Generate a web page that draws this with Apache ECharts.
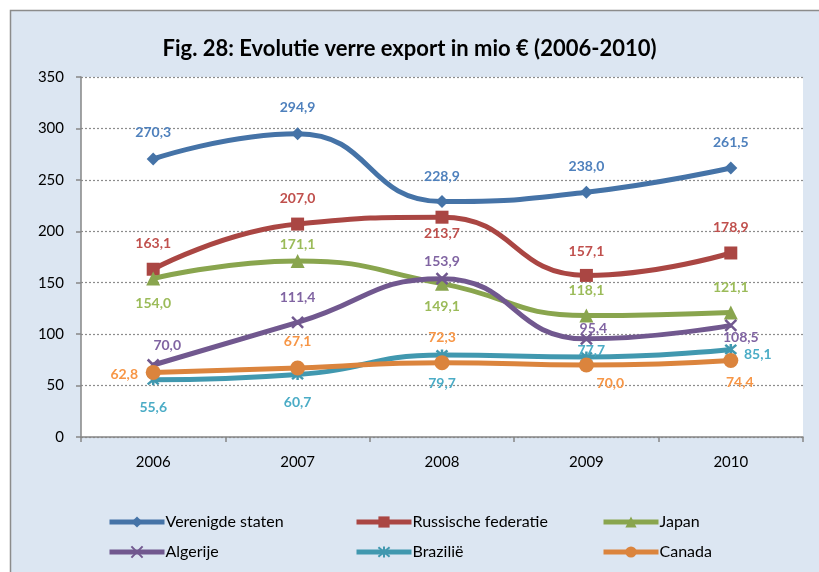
<!DOCTYPE html>
<html>
<head>
<meta charset="utf-8">
<title>Fig. 28</title>
<script src="https://cdn.jsdelivr.net/npm/echarts@6/dist/echarts.min.js"></script>
<style>
	html, body {
		margin: 0;
		padding: 0;
		background: #fff;
	}
	#chart {
		width: 819px;
		height: 572px;
	}
</style>
</head>
<body>
<div id="chart"></div>
<script>
// data
const years = ['2006', '2007', '2008', '2009', '2010'];
const seriesNames = ['Verenigde staten', 'Russische federatie', 'Japan', 'Algerije', 'Brazilië', 'Canada'];
const verenigdeStaten = [270.3, 294.9, 228.9, 238.0, 261.5];
const russischeFederatie = [163.1, 207.0, 213.7, 157.1, 178.9];
const japan = [154.0, 171.1, 149.1, 118.1, 121.1];
const algerije = [70.0, 111.4, 153.9, 95.4, 108.5];
const brazilie = [55.6, 60.7, 79.7, 77.7, 85.1];
const canada = [62.8, 67.1, 72.3, 70.0, 74.4];
const yTicks = [0, 50, 100, 150, 200, 250, 300, 350];

const values = [verenigdeStaten, russischeFederatie, japan, algerije, brazilie, canada];

// styles
const lineColors = ['#4573a7', '#aa4643', '#89a54e', '#71588f', '#4198af', '#db843d'];
const labelColors = ['#4f81bd', '#c0504d', '#9bbb59', '#8064a2', '#4bacc6', '#f79646'];
const symbols = [
	'diamond',
	'rect',
	'triangle',
	'path://M0,0L10,10M10,0L0,10',
	'path://M0,0L10,10M10,0L0,10M5,-1L5,11',
	'circle'
];
const symbolSizes = [13, 13, 14, 11, 11, 15];
// label offsets (dx, dy) per point, from the point centre
const labelOffsets = [
	[[0, -26], [0, -26], [0, -25], [0, -26], [0, -26]],
	[[0, -26], [0, -26], [0, 16], [0, -24], [0, -26]],
	[[0, 25], [0, -17], [0, 23], [0, -25], [0, -25]],
	[[14, -20], [0, -25], [0, -17], [7, -10], [10, 12]],
	[[0, 28], [0, 28], [0, 28], [5, -7], [27, 5]],
	[[-29, 2], [0, -26], [0, -25], [24, 18], [9, 22]]
];

const font = 'Lato, "Open Sans", sans-serif';

const series = values.map((vals, i) => {
	const isPath = symbols[i].indexOf('path://') === 0;
	return {
		name: seriesNames[i],
		type: 'line',
		smooth: 0.5,
		symbol: symbols[i],
		symbolSize: symbolSizes[i],
		lineStyle: {
			color: lineColors[i],
			width: 5
		},
		itemStyle: {
			color: lineColors[i],
			borderColor: lineColors[i],
			borderWidth: isPath ? 2.5 : 0
		},
		data: vals.map((v, j) => ({
			value: v,
			label: {
				offset: labelOffsets[i][j]
			}
		})),
		label: {
			show: true,
			position: 'inside',
			color: labelColors[i],
			fontFamily: font,
			fontWeight: 'bold',
			fontSize: 14,
			formatter: p => p.value.toFixed(1).replace('.', ',')
		},
		emphasis: { disabled: true },
		z: 3 + i
	};
});

// three legend columns, two rows each
const legendCols = [[0, 3], [1, 4], [2, 5]];
const legendLeft = [102, 349, 596];
const legend = legendCols.map((col, k) => ({
	orient: 'vertical',
	left: legendLeft[k],
	top: 509,
	itemWidth: 55,
	itemHeight: 14,
	itemGap: 14,
	lineStyle: { width: 5 },
	data: col.map(i => seriesNames[i]),
	textStyle: {
		fontFamily: font,
		fontSize: 16,
		color: '#000',
		padding: [0, 0, 0, -4]
	}
}));

const option = {
	animation: false,
	title: {
		text: 'Fig. 28: Evolutie verre export in mio € (2006-2010)',
		left: 'center',
		top: 33,
		textStyle: {
			fontFamily: font,
			fontSize: 22,
			fontWeight: 'bold',
			color: '#000'
		}
	},
	graphic: [{
		type: 'rect',
		z: -10,
		shape: { x: 10.5, y: 10.5, width: 830, height: 580 },
		style: { fill: '#dce6f2', stroke: '#8c8c8c', lineWidth: 1.5 }
	}],
	legend: legend,
	grid: {
		left: 81,
		right: 16,
		top: 77,
		bottom: 135,
		show: true,
		backgroundColor: '#fff',
		borderWidth: 0
	},
	xAxis: {
		type: 'category',
		data: years,
		boundaryGap: true,
		axisLine: { lineStyle: { color: '#868686', width: 1.5 } },
		axisTick: { show: true, length: 5, lineStyle: { color: '#868686', width: 1.5 } },
		axisLabel: {
			margin: 18,
			fontFamily: font,
			fontSize: 15,
			color: '#000'
		}
	},
	yAxis: {
		type: 'value',
		min: yTicks[0],
		max: yTicks[yTicks.length - 1],
		interval: yTicks[1] - yTicks[0],
		axisLine: { show: true, lineStyle: { color: '#868686', width: 1.5 } },
		axisTick: { show: true, length: 5, lineStyle: { color: '#868686', width: 1.5 } },
		axisLabel: {
			margin: 17,
			fontFamily: font,
			fontSize: 15,
			color: '#000'
		},
		splitLine: {
			lineStyle: { color: '#8c8c8c', type: [2, 2], width: 1.2 }
		}
	},
	series: series
};

const myChart = echarts.init(document.getElementById('chart'));
myChart.setOption(option);
</script>
</body>
</html>
